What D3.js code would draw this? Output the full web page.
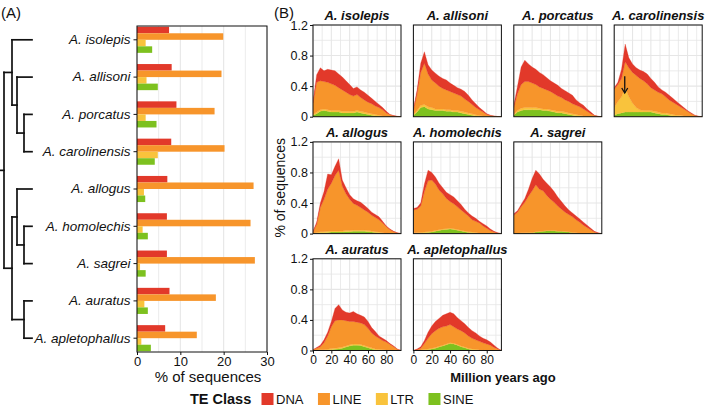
<!DOCTYPE html>
<html><head><meta charset="utf-8">
<script src="https://cdn.jsdelivr.net/npm/d3@7"></script>
<style>
body{margin:0;background:#fff}
svg{display:block}
text{font-family:"Liberation Sans",Arial,Helvetica,sans-serif;fill:#111}
</style>
</head><body>
<svg id="chart" width="708" height="406"></svg>
<script>
// ---------------- DATA ----------------
const species = ["A. isolepis","A. allisoni","A. porcatus","A. carolinensis","A. allogus","A. homolechis","A. sagrei","A. auratus","A. apletophallus"];
const teClasses = ["DNA","LINE","LTR","SINE"];
const teColors = ["#E2392A","#F7952B","#F9C33C","#7DC11F"];

// Panel A: % of sequences per TE class
const barDNA  = [7.4, 8.0, 9.1, 7.9, 7.0, 6.9, 6.9, 7.5, 6.5];
const barLINE = [19.9, 19.5, 17.9, 20.2, 26.9, 26.2, 27.2, 18.2, 13.8];
const barLTR  = [2.0, 2.2, 2.0, 4.8, 1.6, 1.3, 0.7, 1.7, 1.0];
const barSINE = [3.5, 4.8, 4.5, 4.1, 1.9, 2.5, 2.0, 2.5, 3.2];
const barTicks = [0, 10, 20, 30];

// Phylogeny (branch lengths, cladogram units)
const tree = {len:0, children:[
  {len:8, children:[
    {name:"A. isolepis", len:20},
    {len:5, children:[
      {name:"A. allisoni", len:15},
      {len:7, children:[{name:"A. porcatus", len:8},{name:"A. carolinensis", len:8}]}
    ]}
  ]},
  {len:8, children:[
    {len:5, children:[
      {name:"A. allogus", len:15},
      {len:7, children:[{name:"A. homolechis", len:8},{name:"A. sagrei", len:8}]}
    ]},
    {len:12, children:[{name:"A. auratus", len:8},{name:"A. apletophallus", len:8}]}
  ]}
]};

// Panel B: landscapes, % of sequences by age (million years ago)
const ages = [0,4,8,12,16,20,24,28,32,36,40,44,48,52,56,60,64,68,72,76,80,84,88,92,96];
const ageTicks = [0,20,40,60,80];
const pctTicks = [0,0.4,0.8,1.2];

const isolepisDNA  = [.02,.10,.17,.14,.17,.18,.19,.18,.17,.15,.13,.10,.10,.10,.10,.09,.07,.06,.04,.03,.02,.005,.005,.002,0];
const isolepisLINE = [.15,.39,.38,.36,.36,.35,.33,.30,.28,.25,.22,.20,.21,.18,.16,.14,.13,.11,.10,.08,.045,.025,.01,.003,0];
const isolepisLTR  = [.01,.02,.02,.02,.02,.02,.02,.02,.02,.02,.02,.02,.02,.02,.02,.02,.02,.02,.015,.01,.005,0,0,0,0];
const isolepisSINE = [.02,.04,.07,.08,.07,.06,.06,.06,.05,.05,.05,.05,.06,.05,.04,.03,.02,.01,.005,0,0,0,0,0,0];

const allisoniDNA  = [.02,.05,.12,.15,.12,.13,.13,.13,.13,.13,.11,.10,.09,.09,.10,.08,.06,.05,.03,.02,.01,.005,.002,.001,0];
const allisoniLINE = [.05,.22,.43,.54,.43,.36,.34,.30,.27,.26,.24,.23,.21,.20,.17,.15,.12,.095,.075,.05,.025,.012,.006,.002,0];
const allisoniLTR  = [.01,.02,.03,.03,.03,.03,.02,.02,.02,.02,.02,.02,.02,.02,.02,.02,.02,.015,.01,.01,.005,.003,0,0,0];
const allisoniSINE = [.02,.06,.12,.13,.10,.09,.08,.08,.08,.07,.07,.06,.06,.05,.04,.03,.02,.01,.005,0,0,0,0,0,0];

const porcatusDNA  = [.03,.10,.23,.28,.23,.21,.20,.19,.18,.16,.14,.14,.14,.12,.12,.11,.11,.07,.05,.05,.03,.02,.005,.001,0];
const porcatusLINE = [.09,.22,.31,.34,.34,.32,.30,.28,.27,.25,.24,.22,.20,.18,.16,.15,.13,.12,.11,.09,.065,.037,.015,.004,0];
const porcatusLTR  = [.01,.02,.03,.03,.03,.03,.03,.02,.02,.02,.02,.02,.02,.02,.02,.02,.02,.02,.015,.01,.005,.003,0,0,0];
const porcatusSINE = [.02,.06,.08,.09,.09,.09,.09,.09,.08,.08,.07,.06,.05,.05,.04,.03,.02,.01,.005,0,0,0,0,0,0];

const carolinensisDNA  = [.02,.03,.12,.23,.13,.11,.10,.11,.12,.13,.12,.10,.07,.05,.06,.06,.05,.04,.03,.02,.01,.01,.005,.001,0];
const carolinensisLINE = [.24,.22,.24,.34,.38,.40,.42,.41,.39,.35,.30,.28,.26,.25,.21,.18,.16,.14,.11,.09,.065,.04,.015,.004,0];
const carolinensisLTR  = [.10,.16,.21,.32,.20,.12,.06,.03,.02,.02,.02,.02,.02,.02,.02,.02,.02,.015,.02,.01,.005,0,0,0,0];
const carolinensisSINE = [.02,.04,.05,.06,.06,.06,.06,.06,.06,.06,.06,.05,.04,.03,.03,.02,.01,.005,0,0,0,0,0,0,0];

const allogusDNA  = [.01,.03,.06,.10,.20,.11,.12,.15,.08,.08,.06,.06,.06,.07,.06,.05,.04,.04,.04,.02,.01,.01,.005,.002,0];
const allogusLINE = [.015,.105,.315,.425,.55,.625,.725,.795,.585,.48,.41,.35,.325,.295,.265,.24,.205,.185,.16,.13,.085,.05,.025,.008,0];
const allogusLTR  = [.005,.01,.015,.015,.015,.015,.015,.015,.015,.015,.015,.015,.015,.015,.015,.015,.015,.01,.01,.005,.005,0,0,0,0];
const allogusSINE = [0,.005,.01,.01,.015,.02,.02,.02,.02,.025,.025,.03,.03,.03,.03,.025,.02,.015,.01,.005,0,0,0,0,0];

const homolechisDNA  = [.02,.02,.04,.10,.14,.10,.09,.09,.08,.08,.09,.09,.08,.07,.05,.04,.05,.04,.02,.03,.03,.02,.01,.005,0];
const homolechisLINE = [.30,.31,.345,.53,.665,.67,.61,.52,.46,.395,.35,.325,.295,.265,.235,.205,.16,.145,.135,.095,.07,.04,.02,.005,0];
const homolechisLTR  = [.01,.01,.01,.01,.01,.01,.01,.01,.01,.01,.01,.01,.01,.01,.01,.01,.01,.01,.005,.005,0,0,0,0,0];
const homolechisSINE = [0,0,.005,.01,.015,.02,.03,.04,.05,.055,.06,.055,.045,.035,.025,.015,.01,.005,0,0,0,0,0,0,0];

const sagreiDNA  = [.02,.02,.03,.05,.09,.16,.19,.20,.15,.16,.16,.14,.12,.10,.08,.06,.05,.05,.04,.04,.03,.02,.01,.005,0];
const sagreiLINE = [.235,.275,.34,.40,.475,.545,.615,.55,.525,.46,.41,.37,.325,.285,.25,.225,.205,.17,.145,.11,.08,.05,.02,.005,0];
const sagreiLTR  = [.005,.005,.005,.005,.005,.005,.005,.005,.005,.005,.005,.005,.005,.005,.005,.005,.005,.005,.005,0,0,0,0,0,0];
const sagreiSINE = [0,0,.005,.005,.01,.01,.02,.025,.03,.035,.035,.035,.03,.03,.025,.02,.01,.005,0,0,0,0,0,0,0];

const auratusDNA  = [0,.01,.02,.04,.05,.07,.16,.20,.13,.11,.11,.13,.11,.10,.10,.09,.07,.06,.03,.03,.02,.01,.01,.005,0];
const auratusLINE = [.005,.025,.04,.09,.175,.285,.36,.365,.355,.33,.305,.295,.285,.28,.275,.24,.195,.17,.145,.12,.105,.075,.05,.015,0];
const auratusLTR  = [.005,.005,.01,.01,.01,.015,.015,.015,.015,.015,.015,.015,.015,.015,.015,.015,.015,.01,.01,.01,.005,.005,0,0,0];
const auratusSINE = [0,0,0,0,.005,.01,.015,.02,.03,.045,.06,.07,.07,.065,.05,.035,.02,.01,.005,0,0,0,0,0,0];

const apletophallusDNA  = [0,.01,.02,.04,.08,.10,.12,.13,.15,.16,.16,.17,.15,.13,.12,.11,.10,.09,.07,.06,.055,.04,.03,.01,0];
const apletophallusLINE = [0,.005,.025,.075,.14,.19,.22,.235,.24,.235,.24,.215,.20,.20,.185,.16,.14,.125,.115,.095,.08,.07,.04,.02,0];
const apletophallusLTR  = [0,.005,.005,.01,.01,.01,.01,.01,.01,.01,.01,.01,.01,.01,.01,.01,.01,.01,.005,.005,.005,0,0,0,0];
const apletophallusSINE = [0,0,0,.005,.01,.02,.03,.045,.06,.075,.09,.085,.07,.05,.035,.02,.01,.005,0,0,0,0,0,0,0];

// arrow annotation in A. carolinensis (age, from %, to %)
const arrowNote = {species:"A. carolinensis", age:11.5, from:0.53, to:0.31};

// ---------------- BUILD ----------------
const landscapes = {
  "A. isolepis":[isolepisDNA,isolepisLINE,isolepisLTR,isolepisSINE],
  "A. allisoni":[allisoniDNA,allisoniLINE,allisoniLTR,allisoniSINE],
  "A. porcatus":[porcatusDNA,porcatusLINE,porcatusLTR,porcatusSINE],
  "A. carolinensis":[carolinensisDNA,carolinensisLINE,carolinensisLTR,carolinensisSINE],
  "A. allogus":[allogusDNA,allogusLINE,allogusLTR,allogusSINE],
  "A. homolechis":[homolechisDNA,homolechisLINE,homolechisLTR,homolechisSINE],
  "A. sagrei":[sagreiDNA,sagreiLINE,sagreiLTR,sagreiSINE],
  "A. auratus":[auratusDNA,auratusLINE,auratusLTR,auratusSINE],
  "A. apletophallus":[apletophallusDNA,apletophallusLINE,apletophallusLTR,apletophallusSINE]
};
const barSeries = [barDNA, barLINE, barLTR, barSINE];
const color = d3.scaleOrdinal(teClasses, teColors);

const svg = d3.select("#chart");
const FONT = '"Liberation Sans",Arial,Helvetica,sans-serif';
const GRID = "#E6E6E6";

// panel labels
svg.append("text").attr("x",1).attr("y",18).attr("font-size",15).text("(A)");
svg.append("text").attr("x",274).attr("y",18).attr("font-size",15).text("(B)");

// ---------- Panel A: bars ----------
const bx0 = 137, bx1 = 267, by0 = 26, by1 = 352;
const xBar = d3.scaleLinear().domain([0,30]).range([bx0,bx1]);
const yBand = d3.scaleBand().domain(species).range([by0,by1]).paddingInner(0.3).paddingOuter(0.02);
const yInner = d3.scaleBand().domain(teClasses).range([0,yBand.bandwidth()]);

const gA = svg.append("g");
gA.append("rect").attr("x",bx0).attr("y",by0).attr("width",bx1-bx0).attr("height",by1-by0).attr("fill","#fff");
gA.selectAll("line.grid").data(d3.range(0,31,5)).join("line")
  .attr("x1",d=>xBar(d)).attr("x2",d=>xBar(d)).attr("y1",by0).attr("y2",by1)
  .attr("stroke",GRID).attr("stroke-width",d=>d%10===0?1.1:0.8);

const barRows = [];
species.forEach((s,i)=>teClasses.forEach((k,j)=>barRows.push({s,k,v:barSeries[j][i]})));
gA.selectAll("rect.bar").data(barRows).join("rect")
  .attr("x",xBar(0)).attr("y",d=>yBand(d.s)+yInner(d.k))
  .attr("width",d=>xBar(d.v)-xBar(0)).attr("height",yInner.bandwidth())
  .attr("fill",d=>color(d.k));
gA.append("rect").attr("x",bx0).attr("y",by0).attr("width",bx1-bx0).attr("height",by1-by0)
  .attr("fill","none").attr("stroke","#111").attr("stroke-width",1);

// y ticks and labels
const yAxisA = gA.append("g").attr("transform",`translate(${bx0},0)`)
  .call(d3.axisLeft(yBand).tickSize(3.5).tickPadding(3));
yAxisA.select(".domain").remove();
yAxisA.selectAll("line").attr("stroke","#111").attr("stroke-width",1);
yAxisA.selectAll("text").attr("font-size",13.5).attr("font-style","italic")
  .attr("font-family",FONT).attr("fill","#111");

const xAxisA = gA.append("g").attr("transform",`translate(0,${by1})`)
  .call(d3.axisBottom(xBar).tickValues(barTicks).tickSize(3).tickPadding(2));
xAxisA.select(".domain").remove();
xAxisA.selectAll("line").attr("stroke","#111");
xAxisA.selectAll("text").attr("font-size",13).attr("font-family",FONT).attr("fill","#111");
gA.append("text").attr("x",(bx0+bx1)/2+6).attr("y",382).attr("text-anchor","middle")
  .attr("font-size",15).text("% of sequences");

// tree
const root = d3.hierarchy(tree);
root.each(n=>{ n.dl = (n.parent? n.parent.dl : 0) + n.data.len; });
const xTree = d3.scaleLinear().domain([0,28]).range([4,32]);
root.eachAfter(n=>{
  if(!n.children) n.yy = yBand(n.data.name)+yBand.bandwidth()/2;
  else n.yy = (n.children[0].yy + n.children[n.children.length-1].yy)/2;
});
const gT = svg.append("g").attr("stroke","#111").attr("stroke-width",1.7).attr("stroke-linecap","square").attr("fill","none");
gT.append("line").attr("x1",0.5).attr("x2",xTree(root.dl)).attr("y1",root.yy).attr("y2",root.yy);
root.descendants().filter(n=>n.children).forEach(n=>{
  const c = n.children;
  gT.append("line").attr("x1",xTree(n.dl)).attr("x2",xTree(n.dl))
    .attr("y1",c[0].yy).attr("y2",c[c.length-1].yy);
  c.forEach(ch=>gT.append("line").attr("x1",xTree(n.dl)).attr("x2",xTree(ch.dl))
    .attr("y1",ch.yy).attr("y2",ch.yy));
});

// ---------- Panel B: landscapes ----------
const pw = 88, ph = 91.7, px0 = 313, py0 = 25, pdx = 100.4, pdy = 116.9;
const xAge = d3.scaleLinear().domain([0,96]).range([0,pw]);
const yPct = d3.scaleLinear().domain([0,1.2]).range([ph,0]);
const stackKeys = ["SINE","LTR","LINE","DNA"];
const stack = d3.stack().keys(stackKeys);
const area = d3.area().x(d=>xAge(d.data.age)).y0(d=>yPct(d[0])).y1(d=>yPct(d[1]));

species.forEach((s,i)=>{
  const row = i<4?0:(i<7?1:2);
  const col = i<4?i:(i<7?i-4:i-7);
  const g = svg.append("g").attr("transform",`translate(${px0+col*pdx},${py0+row*pdy})`);
  g.append("rect").attr("width",pw).attr("height",ph).attr("fill","#fff");
  // grid
  g.selectAll("line.gx").data(d3.range(0,96,10)).join("line")
    .attr("x1",d=>xAge(d)).attr("x2",d=>xAge(d)).attr("y1",0).attr("y2",ph)
    .attr("stroke",GRID).attr("stroke-width",d=>d%20===0?1.1:0.8);
  g.selectAll("line.gy").data(d3.range(0,1.21,0.2)).join("line")
    .attr("y1",d=>yPct(d)).attr("y2",d=>yPct(d)).attr("x1",0).attr("x2",pw)
    .attr("stroke",GRID).attr("stroke-width",(d,j)=>j%2===0?1.1:0.8);
  // data
  const L = landscapes[s];
  const rows = ages.map((a,j)=>({age:a, DNA:L[0][j]||0, LINE:L[1][j]||0, LTR:L[2][j]||0, SINE:L[3][j]||0}));
  const st = stack(rows);
  const clipId = "clip"+i;
  g.append("clipPath").attr("id",clipId).append("rect").attr("width",pw).attr("height",ph);
  g.append("g").attr("clip-path",`url(#${clipId})`).selectAll("path").data(st).join("path")
    .attr("d",area).attr("fill",d=>color(d.key)).attr("stroke",d=>color(d.key)).attr("stroke-width",0.3);
  if(arrowNote.species===s){
    const ax = xAge(arrowNote.age), ya = yPct(arrowNote.from), yb = yPct(arrowNote.to);
    g.append("line").attr("x1",ax).attr("x2",ax).attr("y1",ya).attr("y2",yb).attr("stroke","#111").attr("stroke-width",1.3);
    g.append("path").attr("d",`M${ax-3},${yb-5}L${ax},${yb}L${ax+3},${yb-5}`)
      .attr("fill","none").attr("stroke","#111").attr("stroke-width",1.3);
  }
  g.append("rect").attr("width",pw).attr("height",ph).attr("fill","none").attr("stroke","#111").attr("stroke-width",1);
  g.append("text").attr("x",pw/2).attr("y",-5).attr("text-anchor","middle")
    .attr("font-size",13).attr("font-weight","bold").attr("font-style","italic").text(s);
  if(col===0){
    const ya = g.append("g").call(d3.axisLeft(yPct).tickValues(pctTicks).tickSize(3).tickPadding(2)
      .tickFormat(d=>d===0?"0":d3.format(".1f")(d)));
    ya.select(".domain").remove();
    ya.selectAll("line").attr("stroke","#111");
    ya.selectAll("text").attr("font-size",12.5).attr("font-family",FONT).attr("fill","#111");
  }
  if(row===2){
    const xa = g.append("g").attr("transform",`translate(0,${ph})`)
      .call(d3.axisBottom(xAge).tickValues(ageTicks).tickSize(3).tickPadding(2));
    xa.select(".domain").remove();
    xa.selectAll("line").attr("stroke","#111");
    xa.selectAll("text").attr("font-size",12).attr("font-family",FONT).attr("fill","#111");
  }
});

svg.append("text").attr("x",503).attr("y",382).attr("text-anchor","middle")
  .attr("font-size",13).attr("font-weight","bold").text("Million years ago");
svg.append("text").attr("transform",`translate(285,${py0+(2*pdy+ph)/2}) rotate(-90)`)
  .attr("text-anchor","middle").attr("font-size",14).text("% of sequences");

// ---------- Legend ----------
const lg = svg.append("g");
lg.append("text").attr("x",190).attr("y",404).attr("font-size",14.5).attr("font-weight","bold").text("TE Class");
let lx = 261.5;
teClasses.forEach(k=>{
  lg.append("rect").attr("x",lx).attr("y",393).attr("width",12).attr("height",12).attr("fill",color(k));
  const t = lg.append("text").attr("x",lx+14.5).attr("y",404).attr("font-size",13).text(k);
  lx += 14.5 + t.node().getComputedTextLength() + 14.5;
});
</script>
</body></html>
